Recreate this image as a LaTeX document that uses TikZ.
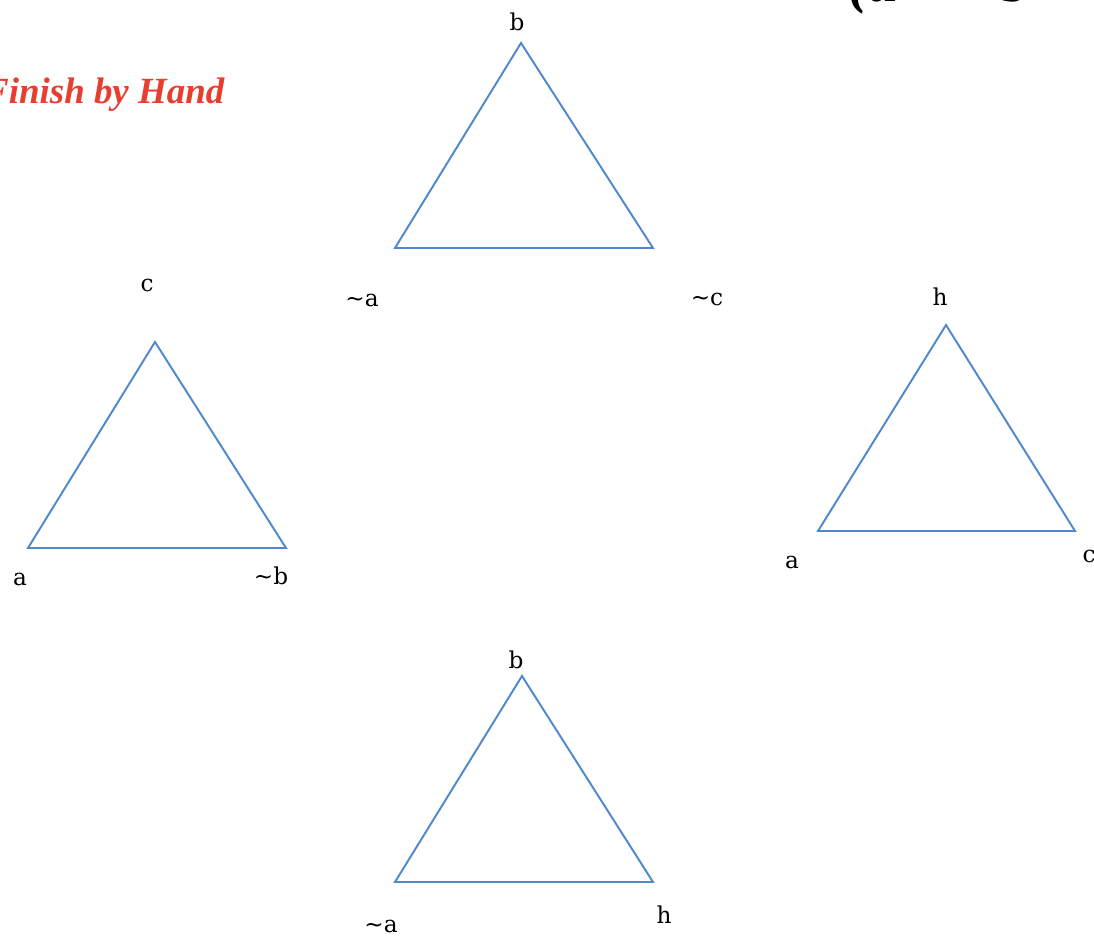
\documentclass[tikz,border=0pt]{standalone}
\usepackage{fontspec}
\setmainfont{Liberation Serif}
\newfontfamily\lblfont{DejaVu Serif}
\usepackage{tikz}
\usetikzlibrary{positioning}
\usepackage{xcolor}
\definecolor{tblue}{RGB}{80,135,205}
\definecolor{hred}{RGB}{232,62,48}

\begin{document}
\begin{tikzpicture}[x=0.01cm, y=-0.01cm,
  tri/.style={draw=tblue, line width=0.55pt, line join=miter},
  lbl/.style={inner sep=0pt, font=\lblfont\fontsize{6.6}{8}\selectfont},
  note/.style={inner sep=0pt, text=hred, font=\fontsize{10.5}{12}\selectfont\bfseries\itshape}
]
\useasboundingbox (0,0) rectangle (1094,937);
\begin{scope}
\clip (0,0) rectangle (1094,937);
% text cut off at the top edge
\node[inner sep=0pt, anchor=base west, font=\fontsize{17}{20}\selectfont\bfseries\itshape] (head) at (848,2) {(a\hspace{1.7em}b};
\node[note, anchor=east] (hand) at (225,95) {Finish by Hand};
% top triangle
\coordinate (ta) at (521,43);
\coordinate (tl) at (395,248);
\coordinate (tr) at (653,248);
\draw[tri] (ta) -- (tr) -- (tl) -- cycle;
\node[lbl] (tab) at (517,22) {b};
\node[lbl] (tlna) at (362,300) {\char`\~a};
\node[lbl] (trnc) at (707,299) {\char`\~c};
% left triangle
\coordinate (la) at (155,342);
\coordinate (ll) at (28,548);
\coordinate (lr) at (286,548);
\draw[tri] (la) -- (lr) -- (ll) -- cycle;
\node[lbl] (lac) at (147,285) {c};
\node[lbl] (lla) at (20,579) {a};
\node[lbl] (lrnb) at (271,576) {\char`\~b};
% right triangle
\coordinate (ra) at (946,325);
\coordinate (rl) at (818,531);
\coordinate (rr) at (1075,531);
\draw[tri] (ra) -- (rr) -- (rl) -- cycle;
\node[lbl] (rah) at (940,297) {h};
\node[lbl] (rla) at (792,562) {a};
\node[lbl] (rrc) at (1089,556) {c};
% bottom triangle
\coordinate (ba) at (522,676);
\coordinate (bl) at (395,882);
\coordinate (br) at (653,882);
\draw[tri] (ba) -- (br) -- (bl) -- cycle;
\node[lbl] (bab) at (516,660) {b};
\node[lbl] (blna) at (381,926) {\char`\~a};
\node[lbl] (brh) at (664,915) {h};
\end{scope}
\end{tikzpicture}
\end{document}
